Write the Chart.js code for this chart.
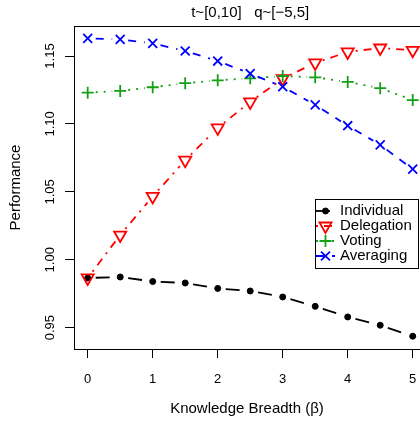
<!DOCTYPE html>
<html lang="en">
<head>
    <meta charset="UTF-8">
    <title>Knowledge Breadth</title>
    <script src="https://cdn.jsdelivr.net/npm/chart.js@4.4.1/dist/chart.umd.min.js"></script>
    <style>
        body { margin: 0; background: #fff; }
    </style>
</head>
<body>
    <canvas id="myCanvas" width="420" height="422"></canvas>
    <script>
        // values
        const breadth = [0, 0.5, 1, 1.5, 2, 2.5, 3, 3.5, 4, 4.5, 5];
        const individual = [0.9866, 0.9873, 0.9840, 0.9829, 0.9789, 0.9770, 0.9726, 0.9657, 0.9579, 0.9518, 0.9437];
        const delegation = [0.9866, 1.0182, 1.0466, 1.0733, 1.0971, 1.1162, 1.1334, 1.1449, 1.1530, 1.1559, 1.1542];
        const voting = [1.1230, 1.1243, 1.1270, 1.1300, 1.1321, 1.1336, 1.1353, 1.1343, 1.1309, 1.1263, 1.1176];
        const averaging = [1.1630, 1.1623, 1.1593, 1.1537, 1.1463, 1.1371, 1.1274, 1.1140, 1.0987, 1.0846, 1.0667];
        const seriesNames = ['Individual', 'Delegation', 'Voting', 'Averaging'];
        const xTicks = [0, 1, 2, 3, 4, 5];
        const yTicks = [0.95, 1.00, 1.05, 1.10, 1.15];
        const yTickLabels = ['0.95', '1.00', '1.05', '1.10', '1.15'];
        const mainTitle = 't~[0,10]   q~[\u22125,5]';

        Chart.defaults.font.family = "'Liberation Sans', Arial, Helvetica, sans-serif";
        Chart.defaults.color = '#000';

        const GAP = 8; // R type="b" gap around points

        function pts(vals) {
            return breadth.map((b, i) => ({ x: b, y: vals[i] }));
        }

        const styles = [
            { color: '#000000', dash: [14, 6], style: 'circle', rot: 0, r: 3, fill: '#000000', bw: 1 },
            { color: '#ff0000', dash: [2, 6, 8, 6], style: 'triangle', rot: 180, r: 7, fill: 'rgba(0,0,0,0)', bw: 1.8 },
            { color: '#14a014', dash: [2, 6], style: 'cross', rot: 0, r: 6, fill: 'rgba(0,0,0,0)', bw: 1.8 },
            { color: '#0000ff', dash: [8, 8], style: 'crossRot', rot: 0, r: 6.3, fill: 'rgba(0,0,0,0)', bw: 1.8 }
        ];
        const seriesData = [individual, delegation, voting, averaging];

        const datasets = seriesData.map((vals, i) => ({
            label: seriesNames[i],
            data: pts(vals),
            showLine: false,
            order: 4 - i,
            pointStyle: styles[i].style,
            pointRotation: styles[i].rot,
            pointRadius: styles[i].r,
            pointBorderWidth: styles[i].bw,
            pointBorderColor: styles[i].color,
            pointBackgroundColor: styles[i].fill,
            borderColor: styles[i].color
        }));

        // connecting lines with gaps at the points, like type="b"
        const gapLines = {
            id: 'gapLines',
            beforeDatasetsDraw(chart) {
                const ctx = chart.ctx;
                chart.data.datasets.forEach((ds, i) => {
                    const p = chart.getDatasetMeta(i).data;
                    ctx.save();
                    ctx.strokeStyle = styles[i].color;
                    ctx.lineWidth = 1.8;
                    ctx.setLineDash(styles[i].dash);
                    for (let k = 0; k < p.length - 1; k++) {
                        const dx = p[k + 1].x - p[k].x, dy = p[k + 1].y - p[k].y;
                        const len = Math.hypot(dx, dy);
                        if (len <= 2 * GAP) continue;
                        const ux = dx / len, uy = dy / len;
                        ctx.beginPath();
                        ctx.moveTo(p[k].x + ux * GAP, p[k].y + uy * GAP);
                        ctx.lineTo(p[k + 1].x - ux * GAP, p[k + 1].y - uy * GAP);
                        ctx.stroke();
                    }
                    ctx.restore();
                });
            }
        };

        const extras = {
            id: 'extras',
            afterDraw(chart) {
                const ctx = chart.ctx;
                const xs = chart.scales.x, ys = chart.scales.y;
                const area = chart.chartArea;
                ctx.save();

                // top border of the box
                ctx.strokeStyle = '#000';
                ctx.lineWidth = 1;
                ctx.beginPath();
                ctx.moveTo(area.left, Math.round(area.top) + 0.5);
                ctx.lineTo(area.right, Math.round(area.top) + 0.5);
                ctx.stroke();

                // rotated y tick labels
                ctx.fillStyle = '#000';
                ctx.font = "13px 'Liberation Sans', Arial, sans-serif";
                ctx.textAlign = 'center';
                ctx.textBaseline = 'alphabetic';
                yTicks.forEach((v, i) => {
                    ctx.save();
                    ctx.translate(53.5, ys.getPixelForValue(v));
                    ctx.rotate(-Math.PI / 2);
                    ctx.fillText(yTickLabels[i], 0, 0);
                    ctx.restore();
                });

                // main title
                ctx.font = "15px 'Liberation Sans', Arial, sans-serif";
                ctx.textBaseline = 'middle';
                ctx.fillText(mainTitle, xs.getPixelForValue((breadth[0] + breadth[breadth.length - 1]) / 2), 13);

                // legend
                const lx = 315, ly = 199, lw = 103, lh = 69;
                ctx.fillStyle = '#fff';
                ctx.fillRect(lx, ly, lw, lh);
                ctx.strokeStyle = '#000';
                ctx.strokeRect(lx + 0.5, ly + 0.5, lw, lh);
                chart.data.datasets.forEach((ds, i) => {
                    const y = ly + 12 + i * 15;
                    ctx.strokeStyle = styles[i].color;
                    ctx.lineWidth = 1.8;
                    ctx.setLineDash(styles[i].dash);
                    ctx.beginPath();
                    ctx.moveTo(316, y);
                    ctx.lineTo(335, y);
                    ctx.stroke();
                    ctx.setLineDash([]);
                    ctx.fillStyle = styles[i].fill;
                    ctx.lineWidth = styles[i].bw;
                    Chart.helpers.drawPoint(ctx, {
                        pointStyle: styles[i].style,
                        rotation: styles[i].rot,
                        radius: styles[i].r,
                        borderWidth: styles[i].bw
                    }, 325.5, y);
                    ctx.fillStyle = '#000';
                    ctx.textAlign = 'left';
                    ctx.fillText(ds.label, 340, y);
                });
                ctx.restore();
            }
        };

        const ctx = document.getElementById('myCanvas').getContext('2d');
        const myChart = new Chart(ctx, {
            type: 'scatter',
            data: { datasets: datasets },
            plugins: [gapLines, extras],
            options: {
                responsive: false,
                devicePixelRatio: 1,
                animation: false,
                events: [],
                layout: { autoPadding: false, padding: { top: 26, left: 0, right: 0, bottom: 0 } },
                plugins: {
                    legend: { display: false },
                    tooltip: { enabled: false }
                },
                scales: {
                    x: {
                        type: 'linear',
                        min: -0.2108,
                        max: 5.112,
                        afterBuildTicks(s) { s.ticks = xTicks.map(v => ({ value: v })); },
                        afterFit(s) { s.height = 73; s.paddingLeft = 0; s.paddingRight = 0; },
                        ticks: { padding: 14, maxRotation: 0, font: { size: 13 }, color: '#000' },
                        grid: { drawOnChartArea: false, tickLength: 9, color: '#000' },
                        border: { color: '#000', width: 1 },
                        title: {
                            display: true,
                            text: 'Knowledge Breadth (\u03b2)',
                            font: { size: 15 },
                            color: '#000',
                            padding: { top: 0, bottom: 4 }
                        }
                    },
                    y: {
                        type: 'linear',
                        min: 0.9343,
                        max: 1.1721,
                        afterBuildTicks(s) { s.ticks = yTicks.map(v => ({ value: v })); },
                        afterFit(s) { s.width = 74; s.paddingTop = 0; s.paddingBottom = 0; },
                        ticks: { display: false },
                        grid: { drawOnChartArea: false, tickLength: 9, color: '#000' },
                        border: { color: '#000', width: 1 },
                        title: {
                            display: true,
                            text: 'Performance',
                            font: { size: 15 },
                            color: '#000',
                            padding: { top: 7, bottom: 0 }
                        }
                    }
                }
            }
        });
    </script>
</body>
</html>
